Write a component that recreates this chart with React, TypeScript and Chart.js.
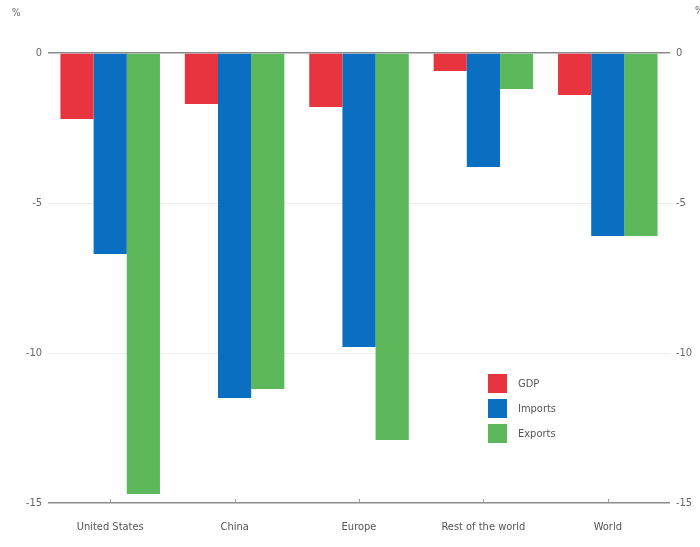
import React, { useEffect, useRef } from "react";
import { Chart, registerables } from "chart.js";

Chart.register(...registerables);

const categories = ["United States", "China", "Europe", "Rest of the world", "World"];
const gdp = [-2.2, -1.7, -1.8, -0.6, -1.4];
const imports = [-6.7, -11.5, -9.8, -3.8, -6.1];
const exportsData = [-14.7, -11.2, -12.9, -1.2, -6.1];
const seriesLabels = ["GDP", "Imports", "Exports"];
const seriesColors = ["#e8343f", "#0a6fc0", "#5cb85a"];
const yMin = -15;
const yMax = 0;
const yStep = 5;
const unitLabel = "%";

const FONT = "'Liberation Sans Narrow', 'DejaVu Sans Condensed', 'Liberation Sans', sans-serif";

const extrasPlugin = {
  id: "extras",
  afterDraw(chart: any) {
    const ctx = chart.ctx;
    const x = chart.scales.x;
    const area = chart.chartArea;
    ctx.save();
    // small tick marks on bottom axis (pointing up)
    ctx.strokeStyle = "#999";
    ctx.lineWidth = 1;
    categories.forEach((_, i) => {
      const px = Math.round(x.getPixelForValue(i)) + 0.5;
      ctx.beginPath();
      ctx.moveTo(px, area.bottom);
      ctx.lineTo(px, area.bottom - 4);
      ctx.stroke();
    });
    // unit labels
    ctx.fillStyle = "#666";
    ctx.font = `10px ${FONT}`;
    ctx.textBaseline = "middle";
    ctx.textAlign = "left";
    ctx.fillText(unitLabel, 12, 13);
    ctx.fillText(unitLabel, 695, 11);
    // legend
    const ds = chart.data.datasets;
    ctx.font = `11px ${FONT}`;
    ds.forEach((d: any, i: number) => {
      const by = 374 + i * 25;
      ctx.fillStyle = d.backgroundColor;
      ctx.fillRect(488, by, 19, 19);
      ctx.fillStyle = "#555";
      ctx.fillText(d.label, 518, by + 10);
    });
    ctx.restore();
  },
};

export default function App() {
  const ref = useRef<HTMLCanvasElement>(null);
  useEffect(() => {
    if (!ref.current) return;
    const gridColor = (c: any) => {
      const v = c.tick && c.tick.value;
      if (v === 0 || v === yMin) return "#8a8a8a";
      return "#ececec";
    };
    const gridWidth = (c: any) => {
      const v = c.tick && c.tick.value;
      if (v === 0 || v === yMin) return 1.5;
      return 1;
    };
    const tickFont = { family: FONT, size: 11 };
    const chart = new Chart(ref.current, {
      type: "bar",
      data: {
        labels: categories,
        datasets: [
          { label: seriesLabels[0], data: gdp, backgroundColor: seriesColors[0], yAxisID: "y" },
          { label: seriesLabels[1], data: imports, backgroundColor: seriesColors[1], yAxisID: "y" },
          { label: seriesLabels[2], data: exportsData, backgroundColor: seriesColors[2], yAxisID: "y" },
        ],
      },
      options: {
        responsive: false,
        animation: false,
        layout: { padding: { top: 53, left: 0, right: 0, bottom: 0 } },
        plugins: { legend: { display: false }, tooltip: { enabled: false } },
        datasets: { bar: { categoryPercentage: 0.8, barPercentage: 1.0 } },
        scales: {
          x: {
            grid: { display: false },
            border: { display: false },
            ticks: { color: "#555", font: tickFont, padding: 10, maxRotation: 0 },
            afterFit: (s: any) => {
              s.height = 44;
            },
          },
          y: {
            position: "left",
            min: yMin,
            max: yMax,
            ticks: { stepSize: yStep, color: "#666", font: tickFont, padding: 6 },
            grid: { color: gridColor, lineWidth: gridWidth, drawTicks: false },
            border: { display: false },
            afterFit: (s: any) => {
              s.width = 48;
            },
          },
          y2: {
            position: "right",
            min: yMin,
            max: yMax,
            ticks: { stepSize: yStep, color: "#666", font: tickFont, padding: 6 },
            grid: { display: false, drawTicks: false },
            border: { display: false },
            afterFit: (s: any) => {
              s.width = 30;
            },
          },
        },
      },
      plugins: [extrasPlugin],
    } as any);
    return () => chart.destroy();
  }, []);
  return (
    <div style={{ position: "absolute", left: 0, top: 0, width: 700, height: 547, background: "#fff" }}>
      <canvas ref={ref} width={700} height={547} />
    </div>
  );
}
